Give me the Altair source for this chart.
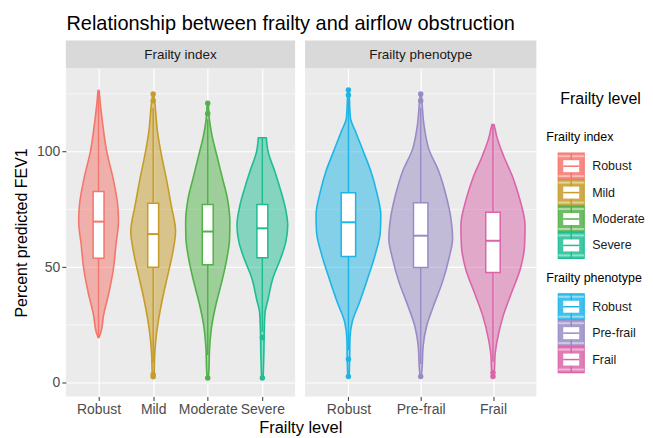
import json
import altair as alt
import pandas as pd

FONT = "Liberation Sans"

# ---------------- data ----------------
fi_cats = ["Robust", "Mild", "Moderate", "Severe"]
fp_cats = ["Robust", "Pre-frail", "Frail"]
fi_colors = ["#F4766C", "#C69C2A", "#52B148", "#1EBD93"]
fp_colors = ["#1EB5E6", "#9A8BC6", "#DA66A9"]

# violin outlines: percent predicted FEV1 levels and half widths (category units)
fi_robust_y = [19.6, 22, 29, 39, 49, 60, 70, 77, 88, 100, 113, 120, 126.5]
fi_robust_w = [0.01, 0.045, 0.09, 0.19, 0.27, 0.32, 0.365, 0.35, 0.27, 0.15, 0.07, 0.035, 0.01]
fi_mild_y = [2.5, 4.3, 11.6, 18.8, 26, 36.2, 47.8, 56.5, 65.5, 76.8, 88.4, 100, 108.5, 120, 125]
fi_mild_w = [0.01, 0.018, 0.027, 0.05, 0.09, 0.17, 0.28, 0.36, 0.41, 0.33, 0.24, 0.14, 0.08, 0.035, 0.01]
fi_moderate_y = [2, 4.3, 15.9, 24.6, 33.4, 43.5, 53.7, 62.4, 69.6, 79.7, 88.4, 98, 106.7, 113, 121]
fi_moderate_w = [0.01, 0.018, 0.036, 0.073, 0.146, 0.255, 0.35, 0.40, 0.405, 0.36, 0.27, 0.17, 0.08, 0.035, 0.01]
fi_severe_y = [2, 11.6, 23.2, 30.4, 36.2, 45, 53.7, 60.9, 68.1, 76.8, 84.1, 91.3, 100, 106]
fi_severe_w = [0.015, 0.027, 0.036, 0.05, 0.106, 0.19, 0.334, 0.43, 0.465, 0.41, 0.325, 0.23, 0.106, 0.073]

fp_robust_y = [2.6, 10, 18.8, 26.1, 34.8, 45, 55.1, 65.2, 72.5, 82.6, 91.3, 100, 108.8, 114.6, 126.5]
fp_robust_w = [0.01, 0.017, 0.021, 0.051, 0.154, 0.265, 0.368, 0.441, 0.448, 0.39, 0.313, 0.207, 0.097, 0.028, 0.01]
fp_prefrail_y = [2.6, 7.2, 15.9, 24.6, 33.4, 43.5, 53.7, 62.3, 71, 81.2, 91.3, 101.3, 111.4, 120, 125]
fp_prefrail_w = [0.01, 0.021, 0.034, 0.083, 0.179, 0.3, 0.39, 0.441, 0.418, 0.349, 0.252, 0.11, 0.046, 0.021, 0.01]
fp_frail_y = [2.6, 5.8, 11.6, 18.8, 29, 39.1, 49.3, 59.4, 68.1, 79.7, 88.4, 98, 106.7, 110, 111.7]
fp_frail_w = [0.01, 0.021, 0.028, 0.062, 0.142, 0.259, 0.379, 0.437, 0.444, 0.368, 0.28, 0.149, 0.051, 0.028, 0.014]

# box plot statistics
fi_lo = [19.6, 8.5, 12, 22]
fi_q1 = [53.8, 49.9, 51, 54.1]
fi_med = [69.7, 64.3, 65.4, 66.8]
fi_q3 = [82.7, 77.7, 77.1, 77.1]
fi_hi = [126.5, 119, 114, 106]
fi_out = [[], [2.5, 3.5, 122, 125], [2, 116.5, 121], [2, 19.5]]

fp_lo = [14, 8, 9]
fp_q1 = [54.6, 49.8, 47.7]
fp_med = [69.4, 63.6, 61.4]
fp_q3 = [82.2, 77.9, 73.8]
fp_hi = [123, 119, 111.7]
fp_out = [[2.6, 10.1, 124.5, 126.7], [2.6, 122, 125], [2.6, 4.3]]

y_ticks = [0, 50, 100]
y_minor = [25, 75, 125]
Y_DOMAIN = [-6, 136]

# ---------------- helpers ----------------
fi_keys = ["Frailty index|" + c for c in fi_cats]
fp_keys = ["Frailty phenotype|" + c for c in fp_cats]
all_keys = fi_keys + fp_keys
all_colors = fi_colors + fp_colors
CSCALE = alt.Scale(domain=all_keys, range=all_colors)

fi_violins = [(fi_robust_y, fi_robust_w), (fi_mild_y, fi_mild_w),
              (fi_moderate_y, fi_moderate_w), (fi_severe_y, fi_severe_w)]
fp_violins = [(fp_robust_y, fp_robust_w), (fp_prefrail_y, fp_prefrail_w),
              (fp_frail_y, fp_frail_w)]

BOX_HALF = 0.1
PANEL_H = 329
STRIP_H = 28


def panel(keys, cats, violins, lo, q1, med, q3, hi, outs, width, first):
    vrows, brows, orows = [], [], []
    for i, (k, (ys, ws)) in enumerate(zip(keys, violins)):
        pos = i + 1
        for yv, wv in zip(ys, ws):
            vrows.append(dict(key=k, y=yv, left=pos - wv, right=pos + wv))
        brows.append(dict(key=k, pos=pos, bl=pos - BOX_HALF, br=pos + BOX_HALF,
                          lo=lo[i], q1=q1[i], med=med[i], q3=q3[i], hi=hi[i]))
        for o in outs[i]:
            orows.append(dict(key=k, pos=pos, y=o))
    vdf, bdf, odf = pd.DataFrame(vrows), pd.DataFrame(brows), pd.DataFrame(orows)

    n = len(cats)
    xdom = [0.4, n + 0.6]
    xscale = alt.Scale(domain=xdom, nice=False, zero=False)
    yscale = alt.Scale(domain=Y_DOMAIN, nice=False, zero=False)
    label_expr = json.dumps(cats) + "[datum.value - 1]"
    xaxis = alt.Axis(values=list(range(1, n + 1)), labelExpr=label_expr, title=None,
                     labelPadding=2)
    if first:
        yaxis = alt.Axis(values=y_ticks, title="Percent predicted FEV1",
                         titleFontSize=16, titleColor="#000000",
                         titleFontWeight="normal", titlePadding=7)
    else:
        yaxis = alt.Axis(values=y_ticks, labels=False, ticks=False, title=None,
                         minExtent=0, maxExtent=0, offset=0)

    def X(f):
        return alt.X(f, scale=xscale, axis=xaxis, stack=None)

    def Y(f):
        return alt.Y(f, scale=yscale, axis=yaxis, stack=None)

    minor = alt.Chart(pd.DataFrame({"m": y_minor})).mark_rule(
        color="white", strokeWidth=0.6).encode(y=Y("m:Q"))

    violin = alt.Chart(vdf).mark_area(
        orient="horizontal", interpolate="monotone", fillOpacity=0.5, strokeWidth=1.6
    ).encode(
        y=Y("y:Q"), x=X("left:Q"), x2="right:Q",
        fill=alt.Fill("key:N", scale=CSCALE, legend=None),
        stroke=alt.Stroke("key:N", scale=CSCALE, legend=None),
        detail="key:N",
    )
    whisker = alt.Chart(bdf).mark_rule(strokeWidth=1.5).encode(
        x=X("pos:Q"), y=Y("lo:Q"), y2="hi:Q",
        color=alt.Color("key:N", scale=CSCALE, legend=None))
    box = alt.Chart(bdf).mark_rect(fill="white", strokeWidth=1.5).encode(
        x=X("bl:Q"), x2="br:Q", y=Y("q1:Q"), y2="q3:Q",
        stroke=alt.Stroke("key:N", scale=CSCALE, legend=None))
    median = alt.Chart(bdf).mark_rule(strokeWidth=2).encode(
        x=X("bl:Q"), x2="br:Q", y=Y("med:Q"),
        color=alt.Color("key:N", scale=CSCALE, legend=None))
    layers = [minor, violin, whisker, box, median]
    if len(odf):
        pts = alt.Chart(odf).mark_circle(size=30, opacity=1).encode(
            x=X("pos:Q"), y=Y("y:Q"),
            color=alt.Color("key:N", scale=CSCALE, legend=None))
        layers.append(pts)
    return alt.layer(*layers).properties(
        width=width, height=PANEL_H,
        view=alt.ViewBackground(fill="#EBEBEB", stroke=None))


def strip(name, width):
    return alt.Chart(pd.DataFrame({"label": [name]})).mark_text(
        fontSize=13.5, color="#1A1A1A", font=FONT
    ).encode(text="label:N").properties(
        width=width, height=STRIP_H,
        view=alt.ViewBackground(fill="#D9D9D9", stroke=None))


p1 = panel(fi_keys, fi_cats, fi_violins, fi_lo, fi_q1, fi_med, fi_q3, fi_hi, fi_out, 230, True)
p2 = panel(fp_keys, fp_cats, fp_violins, fp_lo, fp_q1, fp_med, fp_q3, fp_hi, fp_out, 232, False)

col1 = alt.vconcat(strip("Frailty index", 230), p1, spacing=0)
col2 = alt.vconcat(strip("Frailty phenotype", 232), p2, spacing=0)

# ---------------- legend ----------------
LEG_W, LEG_H = 92, STRIP_H + PANEL_H
titles_df = pd.DataFrame({
    "t": ["Frailty level", "Frailty index", "Frailty phenotype"],
    "x": [18, 4, 4], "y": [59, 97, 238], "size": [16, 12.5, 12.5]})
lrows = []
for i, (c, k) in enumerate(zip(fi_cats, fi_keys)):
    lrows.append(dict(label=c, key=k, yc=126 + i * 26.5))
for i, (c, k) in enumerate(zip(fp_cats, fp_keys)):
    lrows.append(dict(label=c, key=k, yc=267 + i * 26.5))
ldf = pd.DataFrame(lrows)
ldf["k0"], ldf["k1"] = ldf["yc"] - 13, ldf["yc"] + 13
ldf["b0"], ldf["b1"] = ldf["yc"] - 6, ldf["yc"] + 6
ldf["t0"], ldf["t1"] = ldf["yc"] - 11, ldf["yc"] - 9
ldf["u0"], ldf["u1"] = ldf["yc"] + 9, ldf["yc"] + 11
ldf["kx0"], ldf["kx1"], ldf["kxm"] = 16, 42, 29
ldf["bx0"], ldf["bx1"], ldf["lx"] = 21, 37, 50

lx = alt.Scale(domain=[0, LEG_W], nice=False, zero=False)
ly = alt.Scale(domain=[0, LEG_H], nice=False, zero=False, reverse=True)


def LX(f):
    return alt.X(f, scale=lx, axis=None)


def LY(f):
    return alt.Y(f, scale=ly, axis=None)


leg_titles = alt.Chart(titles_df).mark_text(
    align="left", baseline="middle", color="#000000", font=FONT
).encode(x=LX("x:Q"), y=LY("y:Q"), text="t:N", size=alt.Size("size:Q", scale=None))
leg_key = alt.Chart(ldf).mark_rect(fillOpacity=0.85, strokeWidth=1.2).encode(
    x=LX("kx0:Q"), x2="kx1:Q", y=LY("k0:Q"), y2="k1:Q",
    fill=alt.Fill("key:N", scale=CSCALE, legend=None),
    stroke=alt.Stroke("key:N", scale=CSCALE, legend=None))
leg_top = alt.Chart(ldf).mark_rect(fill="white", opacity=0.45).encode(
    x=LX("kx0:Q"), x2="kx1:Q", y=LY("t0:Q"), y2="t1:Q")
leg_bot = alt.Chart(ldf).mark_rect(fill="white", opacity=0.45).encode(
    x=LX("kx0:Q"), x2="kx1:Q", y=LY("u0:Q"), y2="u1:Q")
leg_wh = alt.Chart(ldf).mark_rule(strokeWidth=1.5).encode(
    x=LX("kxm:Q"), y=LY("k0:Q"), y2="k1:Q",
    color=alt.Color("key:N", scale=CSCALE, legend=None))
leg_box = alt.Chart(ldf).mark_rect(fill="white").encode(
    x=LX("bx0:Q"), x2="bx1:Q", y=LY("b0:Q"), y2="b1:Q")
leg_med = alt.Chart(ldf).mark_rule(strokeWidth=1.5).encode(
    x=LX("bx0:Q"), x2="bx1:Q", y=LY("yc:Q"),
    color=alt.Color("key:N", scale=CSCALE, legend=None))
leg_lab = alt.Chart(ldf).mark_text(
    align="left", baseline="middle", fontSize=12.5, color="#1A1A1A", font=FONT
).encode(x=LX("lx:Q"), y=LY("yc:Q"), text="label:N")

legend = alt.layer(leg_titles, leg_key, leg_top, leg_bot, leg_wh, leg_box, leg_med, leg_lab).properties(
    width=LEG_W, height=LEG_H, view=alt.ViewBackground(fill=None, stroke=None))

panels = alt.hconcat(col1, col2, spacing=8).properties(
    title=alt.TitleParams("Frailty level", orient="bottom", anchor="start",
                          align="center", dx=288, offset=4, fontSize=16.5,
                          fontWeight="normal", color="#000000", font=FONT))

chart = alt.hconcat(panels, legend, spacing=5).properties(
    title=alt.TitleParams("Relationship between frailty and airflow obstruction",
                          fontSize=20, fontWeight="normal", color="#000000",
                          anchor="start", dx=53, offset=7, font=FONT),
    padding={"left": 5, "top": 5, "right": 0, "bottom": 0},
).configure(font=FONT).configure_view(
    fill="#EBEBEB", stroke=None
).configure_axis(
    gridColor="white", gridWidth=1.2, domain=False, tickColor="#333333",
    tickSize=4, labelColor="#4D4D4D", labelFontSize=14, labelFont=FONT,
    labelPadding=2, titleFont=FONT
)

chart.save("out.html", embed_options={"renderer": "svg", "actions": False})
